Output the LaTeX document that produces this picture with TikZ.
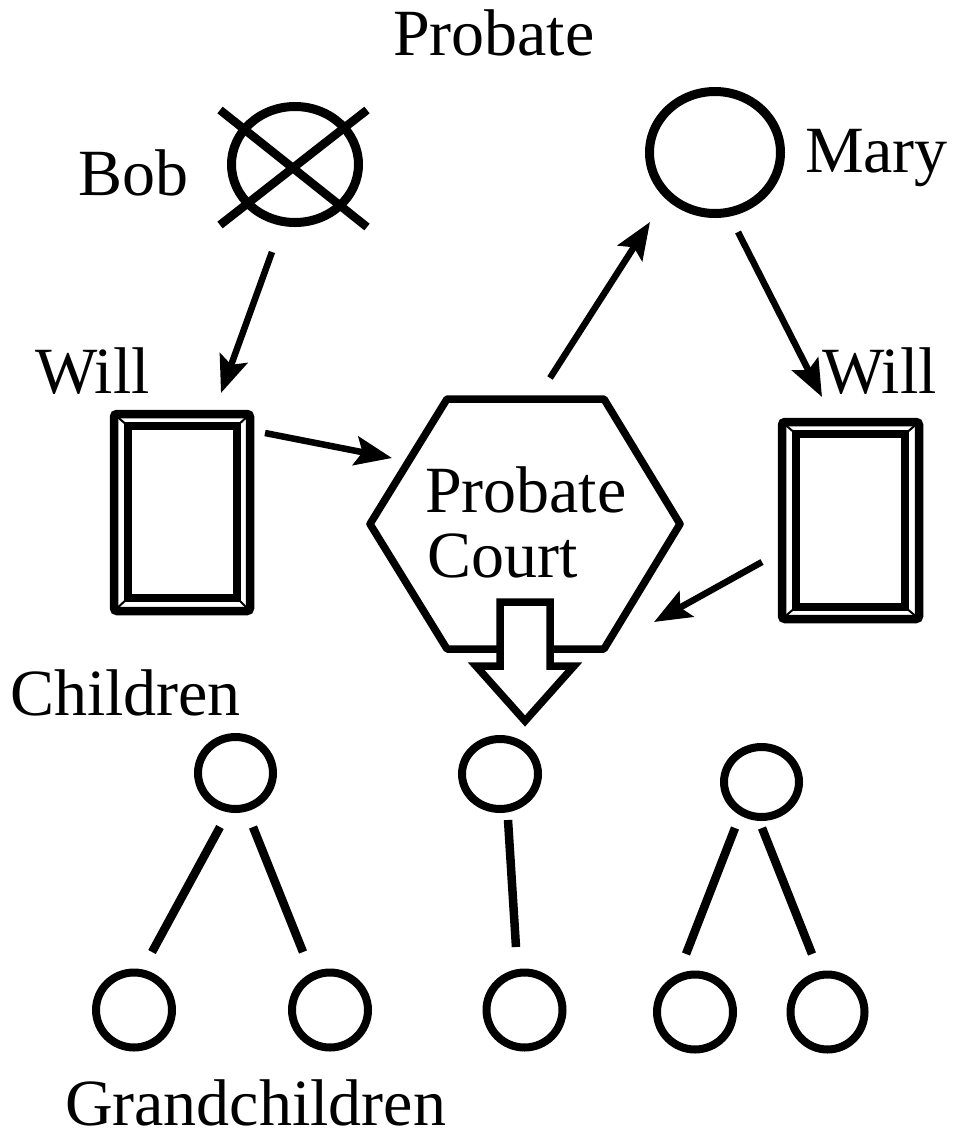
\documentclass[tikz,border=0pt]{standalone}
\usepackage{fontspec}
\setmainfont{Liberation Serif}
\usetikzlibrary{arrows.meta,shapes.geometric}
\begin{document}
\begin{tikzpicture}[x=1pt,y=-1pt,
  lbl/.style={inner sep=0pt, outer sep=0pt, anchor=base west, font=\fontsize{66}{66}\selectfont},
  person/.style={ellipse, draw, line width=9pt, inner sep=0pt, outer sep=0pt},
  kid/.style={person, line width=8pt},
  arr/.style={line width=6.5pt, -{Stealth[length=37pt,width=29pt,inset=7pt]}},
  tie/.style={line width=8.5pt},
  willbox/.style={draw, line width=8.5pt, rounded corners=3pt, inner sep=0pt, minimum width=136pt, minimum height=197pt},
  inner/.style={line width=8.5pt},
  bevel/.style={line width=2pt},
  court/.style={line width=7.5pt, line join=round},
  block/.style={line width=7.5pt, fill=white, line join=miter}
]
\useasboundingbox (0,0) rectangle (956,1141);

% labels
\node[lbl] (lprob) at (393,55) {Probate};
\node[lbl] (lbob) at (78,195) {Bob};
\node[lbl] (lmary) at (805,172) {Mary};
\node[lbl] (lwillL) at (35,393) {Will};
\node[lbl] (lwillR) at (822,393) {Will};
\node[lbl] (lchild) at (10,715) {Children};
\node[lbl] (lgrand) at (65,1125) {Grandchildren};

% Bob and Mary
\node[person, minimum width=127pt, minimum height=116pt] (bob) at (295,164.5) {};
\draw[tie] (220,110) -- (367,227);
\draw[tie] (220,225) -- (367,110);
\node[person, minimum width=131pt, minimum height=122pt] (mary) at (715,152.5) {};

% wills
\node[willbox] (willL) at (182,512.5) {};
\draw[inner] (128,426) rectangle (237,598);
\draw[bevel] (114,414) -- (128,426) (250,414) -- (237,426) (114,611) -- (128,598) (250,611) -- (237,598);
\node[willbox, minimum width=137pt] (willR) at (850.5,520.5) {};
\draw[inner] (796,434) rectangle (905,607);
\draw[bevel] (782,422) -- (796,434) (919,422) -- (905,434) (782,619) -- (796,607) (919,619) -- (905,607);

% probate court
\draw[court] (447,399) -- (604,399) -- (680,524) -- (604,649) -- (447,649) -- (370,524) -- cycle;
\node[lbl] (court) at (425,512) {Probate};
\node[lbl] (court2) at (427,577) {Court};
\draw[block] (500,602) -- (550,602) -- (550,666) -- (574,666) -- (525,721) -- (476,666) -- (500,666) -- cycle;

% arrows
\coordinate (a1s) at (272,252); \coordinate (a1e) at (221,393);
\coordinate (a2s) at (265,433); \coordinate (a2e) at (392,458);
\coordinate (a3s) at (550,378); \coordinate (a3e) at (650,222);
\coordinate (a4s) at (738,232); \coordinate (a4e) at (822,397);
\coordinate (a5s) at (762,562); \coordinate (a5e) at (654,622);
\draw[arr] (a1s) -- (a1e);
\draw[arr] (a2s) -- (a2e);
\draw[arr] (a3s) -- (a3e);
\draw[arr] (a4s) -- (a4e);
\draw[arr] (a5s) -- (a5e);

% children
\node[kid, minimum width=75pt, minimum height=72pt] (c1) at (235.5,773) {};
\node[kid, minimum width=76pt, minimum height=70pt] (c2) at (500,774) {};
\node[kid, minimum width=75pt, minimum height=70pt] (c3) at (761.5,782) {};
% grandchildren
\node[kid, minimum width=76pt, minimum height=75pt] (g1) at (134,1010) {};
\node[kid, minimum width=76pt, minimum height=75pt] (g2) at (330,1010) {};
\node[kid, minimum width=76pt, minimum height=75pt] (g3) at (524.5,1010) {};
\node[kid, minimum width=76pt, minimum height=75pt] (g4) at (695,1012) {};
\node[kid, minimum width=74pt, minimum height=75pt] (g5) at (827.5,1012) {};

\coordinate (t1s) at (220,827); \coordinate (t1e) at (152,952);
\coordinate (t2s) at (253,827); \coordinate (t2e) at (303,952);
\coordinate (t3s) at (508,820); \coordinate (t3e) at (516,947);
\coordinate (t4s) at (735,828); \coordinate (t4e) at (686,954);
\coordinate (t5s) at (762,828); \coordinate (t5e) at (812,954);
\draw[tie] (t1s) -- (t1e);
\draw[tie] (t2s) -- (t2e);
\draw[tie] (t3s) -- (t3e);
\draw[tie] (t4s) -- (t4e);
\draw[tie] (t5s) -- (t5e);
\end{tikzpicture}
\end{document}
